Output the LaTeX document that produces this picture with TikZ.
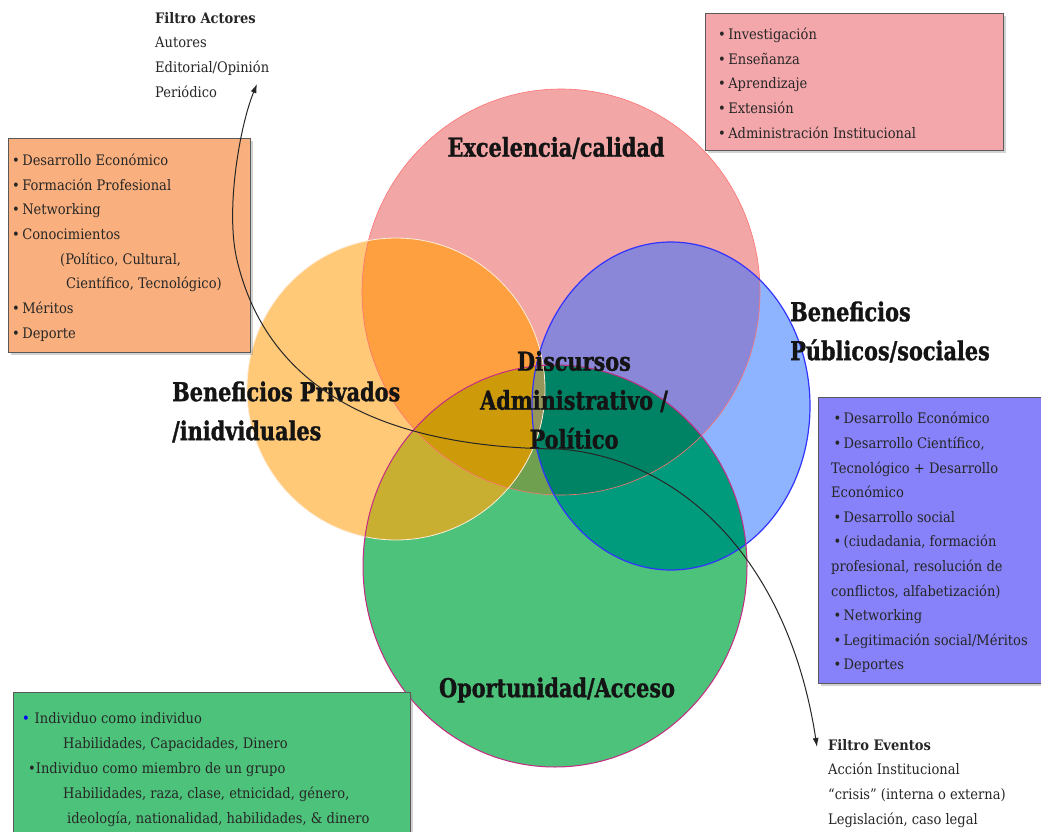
\documentclass[tikz,border=0pt]{standalone}
\usepackage{fontspec}
\usetikzlibrary{arrows.meta,positioning,shadows}
\newfontfamily\headfont[FakeStretch=0.89,FakeBold=1.2]{DejaVu Serif Condensed Bold}
\newfontfamily\listfont[FakeStretch=1.0]{DejaVu Serif Condensed}
\newfontfamily\listbold[FakeStretch=1.0]{DejaVu Serif Condensed Bold}

\definecolor{excfill}{HTML}{F2A6A6}
\definecolor{privfill}{HTML}{FFC978}
\definecolor{pubfill}{HTML}{8FB4FF}
\definecolor{opofill}{HTML}{4CC27A}
\definecolor{exprfill}{HTML}{FFA040}
\definecolor{expufill}{HTML}{8A86D8}
\definecolor{exopfill}{HTML}{6EA050}
\definecolor{prpufill}{HTML}{B49070}
\definecolor{propfill}{HTML}{C8AF32}
\definecolor{puopfill}{HTML}{009B7D}
\definecolor{exprpufill}{HTML}{B49070}
\definecolor{exprop}{HTML}{CD9B0A}
\definecolor{expuop}{HTML}{008264}
\definecolor{prpuop}{HTML}{7A9A5A}
\definecolor{allfill}{HTML}{96965A}
\definecolor{boxorange}{HTML}{FAB07E}
\definecolor{boxpink}{HTML}{F4A7AB}
\definecolor{boxviolet}{HTML}{8782FA}
\definecolor{boxgreen}{HTML}{4DC27A}

% circulos del diagrama
\def\excpath{(561,292) ellipse [x radius=199, y radius=203]}
\def\privpath{(396,389) ellipse [x radius=149, y radius=151]}
\def\pubpath{(671,406) ellipse [x radius=139, y radius=164]}
\def\opopath{(555,566) ellipse [x radius=192, y radius=201]}

\tikzset{
  headtext/.style={font={\headfont\fontsize{26pt}{39pt}\selectfont}, text=black!92, inner sep=0pt},
  listtext/.style={font={\listfont\fontsize{14.5pt}{24.6pt}\selectfont}, text=black!85, align=left, inner sep=0pt},
  listbox/.style={draw=black!65, line width=1.2pt, inner sep=0pt, anchor=north west,
    drop shadow={shadow xshift=2pt, shadow yshift=-2pt, opacity=0.35}},
  filterarrow/.style={draw=black!85, line width=1pt, -{Latex[length=9pt,width=6pt]}}
}

\begin{document}
\begin{tikzpicture}[x=1pt, y=-1pt]
\useasboundingbox[fill=white] (0,0) rectangle (1041,832);

%regiones
\fill[excfill] \excpath;
\fill[privfill] \privpath;
\fill[pubfill] \pubpath;
\fill[opofill] \opopath;
\begin{scope} \clip \excpath; \fill[exprfill] \privpath; \end{scope}
\begin{scope} \clip \excpath; \fill[expufill] \pubpath; \end{scope}
\begin{scope} \clip \excpath; \fill[exopfill] \opopath; \end{scope}
\begin{scope} \clip \privpath; \fill[prpufill] \pubpath; \end{scope}
\begin{scope} \clip \privpath; \fill[propfill] \opopath; \end{scope}
\begin{scope} \clip \pubpath; \fill[puopfill] \opopath; \end{scope}
\begin{scope} \clip \excpath; \clip \privpath; \fill[exprpufill] \pubpath; \end{scope}
\begin{scope} \clip \excpath; \clip \privpath; \fill[exprop] \opopath; \end{scope}
\begin{scope} \clip \excpath; \clip \pubpath; \fill[expuop] \opopath; \end{scope}
\begin{scope} \clip \privpath; \clip \pubpath; \fill[prpuop] \opopath; \end{scope}
\begin{scope} \clip \excpath; \clip \privpath; \clip \pubpath; \fill[allfill] \opopath; \end{scope}

%bordes
\draw[red!55!white, line width=0.6pt] \excpath;
\draw[orange!15!white, line width=0.8pt] \privpath;
\draw[blue!80!white, line width=1.2pt] \pubpath;
\draw[magenta!80!black, line width=1pt] \opopath;

%cajas
\node[listbox, fill=boxorange, minimum width=242pt, minimum height=214pt] (privbox) at (8,138) {};
\node[listbox, fill=boxpink, minimum width=298pt, minimum height=137pt] (excbox) at (705,13) {};
\node[listbox, fill=boxviolet, minimum width=240pt, minimum height=286pt] (pubbox) at (818,397) {};
\node[listbox, fill=boxgreen, minimum width=397pt, minimum height=160pt] (opobox) at (13,692) {};

\node[listtext, below right=16pt and 4pt of privbox.north west] (privlist)
  {•\,Desarrollo Económico\\
   •\,Formación Profesional\\
   •\,Networking\\
   •\,Conocimientos\\
   \hspace*{48pt}(Político, Cultural,\\
   \hspace*{54pt}Científico, Tecnológico)\\
   •\,Méritos\\
   •\,Deporte};
\node[listtext, below right=15pt and 13pt of excbox.north west] (exclist)
  {•\,Investigación\\
   •\,Enseñanza\\
   •\,Aprendizaje\\
   •\,Extensión\\
   •\,Administración Institucional};
\node[listtext, below right=15pt and 13pt of pubbox.north west] (publist)
  {\,•\,Desarrollo Económico\\
   \,•\,Desarrollo Científico,\\
   Tecnológico + Desarrollo\\
   Económico\\
   \,•\,Desarrollo social\\
   \,•\,(ciudadania, formación\\
   profesional, resolución de\\
   conflictos, alfabetización)\\
   \,•\,Networking\\
   \,•\,Legitimación social/Méritos\\
   \,•\,Deportes};
\node[listtext, font={\listfont\fontsize{14.5pt}{25pt}\selectfont}, below right=20pt and 9pt of opobox.north west] (opolist)
  {{\color{blue}•}\,\,Individuo como individuo\\
   \hspace*{41pt}Habilidades, Capacidades, Dinero\\
   \hspace*{6pt}•Individuo como miembro de un grupo\\
   \hspace*{41pt}Habilidades, raza, clase, etnicidad, género,\\
   \hspace*{45pt}ideología, nationalidad, habilidades, \& dinero};

%filtros
\node[listtext, anchor=north west] (actores) at (155,12)
  {{\listbold Filtro Actores}\\Autores\\Editorial/Opinión\\Periódico};
\node[listtext, anchor=north west] (eventos) at (828,739)
  {{\listbold Filtro Eventos}\\Acción Institucional\\“crisis” (interna o externa)\\Legislación, caso legal};

%titulos
\node[headtext] (exc) at (556,148) {Excelencia/calidad};
\node[headtext, align=left, anchor=west] (priv) at (172,412) {Beneficios Privados\\/inidviduales};
\node[headtext, align=left, anchor=west] (pub) at (790,332) {Beneficios\\Públicos/sociales};
\node[headtext, align=center] (disc) at (574,400) {Discursos\\Administrativo /\\Político};
\node[headtext] (opo) at (557,690) {Oportunidad/Acceso};

%flechas
\coordinate (cen) at (560,449);
\coordinate (tipact) at (257,84);
\coordinate (tipev) at (817,747);
\draw[filterarrow] (cen) .. controls (400,448) and (270,400) .. (237,260)
  .. controls (225,210) and (240,125) .. (tipact);
\draw[filterarrow] (cen) .. controls (690,460) and (790,570) .. (tipev);
\end{tikzpicture}
\end{document}
